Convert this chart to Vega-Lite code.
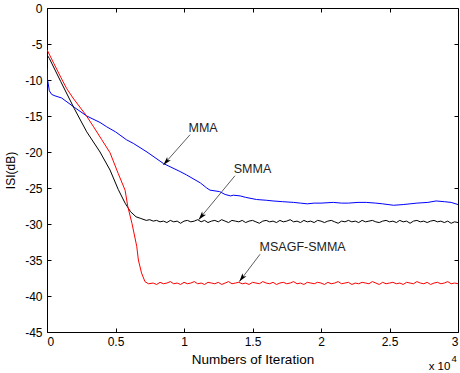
{
  "$schema": "https://vega.github.io/schema/vega-lite/v6.json",
  "width": 411,
  "height": 324,
  "autosize": {"type": "none"},
  "padding": {"left": 47, "top": 8, "right": 2, "bottom": 41},
  "background": "white",
  "config": {
    "view": {"stroke": "black", "strokeWidth": 1},
    "font": "Liberation Sans",
    "axis": {
      "domain": false,
      "grid": false,
      "tickColor": "black",
      "tickSize": -4,
      "labelFont": "Liberation Sans",
      "labelFontSize": 12,
      "labelColor": "black",
      "titleFont": "Liberation Sans",
      "titleFontSize": 12,
      "titleFontWeight": "normal",
      "titleColor": "black"
    }
  },
  "datasets": {
    "curves": [
      {"s": "MMA", "x": 0, "y": -8.3},
      {"s": "MMA", "x": 0.003, "y": -9.8},
      {"s": "MMA", "x": 0.017, "y": -11.5},
      {"s": "MMA", "x": 0.034, "y": -12.0},
      {"s": "MMA", "x": 0.058, "y": -12.2},
      {"s": "MMA", "x": 0.107, "y": -12.5},
      {"s": "MMA", "x": 0.2, "y": -13.8},
      {"s": "MMA", "x": 0.29, "y": -15.0},
      {"s": "MMA", "x": 0.387, "y": -15.9},
      {"s": "MMA", "x": 0.436, "y": -16.5},
      {"s": "MMA", "x": 0.5, "y": -17.2},
      {"s": "MMA", "x": 0.58, "y": -18.3},
      {"s": "MMA", "x": 0.63, "y": -18.8},
      {"s": "MMA", "x": 0.73, "y": -20.0},
      {"s": "MMA", "x": 0.85, "y": -21.6},
      {"s": "MMA", "x": 0.97, "y": -22.7},
      {"s": "MMA", "x": 1.02, "y": -23.2},
      {"s": "MMA", "x": 1.12, "y": -24.3},
      {"s": "MMA", "x": 1.166, "y": -25.0},
      {"s": "MMA", "x": 1.19, "y": -25.3},
      {"s": "MMA", "x": 1.26, "y": -25.5},
      {"s": "MMA", "x": 1.3, "y": -25.9},
      {"s": "MMA", "x": 1.34, "y": -26.1},
      {"s": "MMA", "x": 1.36, "y": -26.0},
      {"s": "MMA", "x": 1.41, "y": -26.1},
      {"s": "MMA", "x": 1.45, "y": -26.3},
      {"s": "MMA", "x": 1.53, "y": -26.6},
      {"s": "MMA", "x": 1.6, "y": -26.7},
      {"s": "MMA", "x": 1.65, "y": -26.8},
      {"s": "MMA", "x": 1.72, "y": -26.9},
      {"s": "MMA", "x": 1.8, "y": -27.0},
      {"s": "MMA", "x": 1.85, "y": -27.1},
      {"s": "MMA", "x": 1.9, "y": -27.2},
      {"s": "MMA", "x": 1.95, "y": -27.1},
      {"s": "MMA", "x": 2.0, "y": -27.1},
      {"s": "MMA", "x": 2.09, "y": -27.0},
      {"s": "MMA", "x": 2.15, "y": -27.1},
      {"s": "MMA", "x": 2.2, "y": -27.1},
      {"s": "MMA", "x": 2.27, "y": -27.0},
      {"s": "MMA", "x": 2.33, "y": -27.0},
      {"s": "MMA", "x": 2.4, "y": -27.1},
      {"s": "MMA", "x": 2.45, "y": -27.2},
      {"s": "MMA", "x": 2.53, "y": -27.4},
      {"s": "MMA", "x": 2.6, "y": -27.3},
      {"s": "MMA", "x": 2.65, "y": -27.2},
      {"s": "MMA", "x": 2.7, "y": -27.1},
      {"s": "MMA", "x": 2.78, "y": -27.0},
      {"s": "MMA", "x": 2.84, "y": -26.8},
      {"s": "MMA", "x": 2.9, "y": -26.9},
      {"s": "MMA", "x": 2.95, "y": -27.0},
      {"s": "MMA", "x": 3.0, "y": -27.3},

      {"s": "SMMA", "x": 0, "y": -6.5},
      {"s": "SMMA", "x": 0.017, "y": -7.0},
      {"s": "SMMA", "x": 0.1, "y": -10.2},
      {"s": "SMMA", "x": 0.2, "y": -14.0},
      {"s": "SMMA", "x": 0.29, "y": -17.2},
      {"s": "SMMA", "x": 0.387, "y": -20.0},
      {"s": "SMMA", "x": 0.46, "y": -22.5},
      {"s": "SMMA", "x": 0.52, "y": -25.2},
      {"s": "SMMA", "x": 0.57, "y": -27.1},
      {"s": "SMMA", "x": 0.61, "y": -28.3},
      {"s": "SMMA", "x": 0.65, "y": -29.0},
      {"s": "SMMA", "x": 0.68, "y": -29.2},
      {"s": "SMMA", "x": 0.725, "y": -29.5},
      {"s": "SMMA", "x": 0.75, "y": -29.4},
      {"s": "SMMA", "x": 0.775, "y": -29.6},
      {"s": "SMMA", "x": 0.8, "y": -29.5},
      {"s": "SMMA", "x": 0.825, "y": -29.7},
      {"s": "SMMA", "x": 0.85, "y": -29.6},
      {"s": "SMMA", "x": 0.875, "y": -29.8},
      {"s": "SMMA", "x": 0.9, "y": -29.5},
      {"s": "SMMA", "x": 0.925, "y": -29.7},
      {"s": "SMMA", "x": 0.95, "y": -29.6},
      {"s": "SMMA", "x": 0.975, "y": -29.9},
      {"s": "SMMA", "x": 1.0, "y": -29.6},
      {"s": "SMMA", "x": 1.025, "y": -29.5},
      {"s": "SMMA", "x": 1.05, "y": -29.7},
      {"s": "SMMA", "x": 1.075, "y": -29.6},
      {"s": "SMMA", "x": 1.1, "y": -29.4},
      {"s": "SMMA", "x": 1.125, "y": -29.7},
      {"s": "SMMA", "x": 1.15, "y": -29.5},
      {"s": "SMMA", "x": 1.175, "y": -29.8},
      {"s": "SMMA", "x": 1.2, "y": -29.6},
      {"s": "SMMA", "x": 1.225, "y": -29.5},
      {"s": "SMMA", "x": 1.25, "y": -29.7},
      {"s": "SMMA", "x": 1.275, "y": -29.4},
      {"s": "SMMA", "x": 1.3, "y": -29.6},
      {"s": "SMMA", "x": 1.325, "y": -29.8},
      {"s": "SMMA", "x": 1.35, "y": -29.5},
      {"s": "SMMA", "x": 1.375, "y": -29.6},
      {"s": "SMMA", "x": 1.4, "y": -29.7},
      {"s": "SMMA", "x": 1.425, "y": -29.5},
      {"s": "SMMA", "x": 1.45, "y": -29.8},
      {"s": "SMMA", "x": 1.475, "y": -29.6},
      {"s": "SMMA", "x": 1.5, "y": -29.5},
      {"s": "SMMA", "x": 1.525, "y": -29.7},
      {"s": "SMMA", "x": 1.55, "y": -29.9},
      {"s": "SMMA", "x": 1.575, "y": -29.6},
      {"s": "SMMA", "x": 1.6, "y": -29.5},
      {"s": "SMMA", "x": 1.625, "y": -29.7},
      {"s": "SMMA", "x": 1.65, "y": -29.6},
      {"s": "SMMA", "x": 1.675, "y": -29.8},
      {"s": "SMMA", "x": 1.7, "y": -29.5},
      {"s": "SMMA", "x": 1.725, "y": -29.7},
      {"s": "SMMA", "x": 1.75, "y": -29.6},
      {"s": "SMMA", "x": 1.775, "y": -29.4},
      {"s": "SMMA", "x": 1.8, "y": -29.7},
      {"s": "SMMA", "x": 1.825, "y": -29.6},
      {"s": "SMMA", "x": 1.85, "y": -29.8},
      {"s": "SMMA", "x": 1.875, "y": -29.5},
      {"s": "SMMA", "x": 1.9, "y": -29.7},
      {"s": "SMMA", "x": 1.925, "y": -29.6},
      {"s": "SMMA", "x": 1.95, "y": -29.8},
      {"s": "SMMA", "x": 1.975, "y": -29.5},
      {"s": "SMMA", "x": 2.0, "y": -29.6},
      {"s": "SMMA", "x": 2.025, "y": -29.8},
      {"s": "SMMA", "x": 2.05, "y": -29.6},
      {"s": "SMMA", "x": 2.075, "y": -29.5},
      {"s": "SMMA", "x": 2.1, "y": -29.7},
      {"s": "SMMA", "x": 2.125, "y": -29.9},
      {"s": "SMMA", "x": 2.15, "y": -29.6},
      {"s": "SMMA", "x": 2.175, "y": -29.7},
      {"s": "SMMA", "x": 2.2, "y": -29.5},
      {"s": "SMMA", "x": 2.225, "y": -29.7},
      {"s": "SMMA", "x": 2.25, "y": -29.6},
      {"s": "SMMA", "x": 2.275, "y": -29.8},
      {"s": "SMMA", "x": 2.3, "y": -29.5},
      {"s": "SMMA", "x": 2.325, "y": -29.7},
      {"s": "SMMA", "x": 2.35, "y": -29.6},
      {"s": "SMMA", "x": 2.375, "y": -29.5},
      {"s": "SMMA", "x": 2.4, "y": -29.7},
      {"s": "SMMA", "x": 2.425, "y": -29.8},
      {"s": "SMMA", "x": 2.45, "y": -29.6},
      {"s": "SMMA", "x": 2.475, "y": -29.5},
      {"s": "SMMA", "x": 2.5, "y": -29.7},
      {"s": "SMMA", "x": 2.525, "y": -29.6},
      {"s": "SMMA", "x": 2.55, "y": -29.8},
      {"s": "SMMA", "x": 2.575, "y": -29.5},
      {"s": "SMMA", "x": 2.6, "y": -29.7},
      {"s": "SMMA", "x": 2.625, "y": -29.6},
      {"s": "SMMA", "x": 2.65, "y": -29.9},
      {"s": "SMMA", "x": 2.675, "y": -29.6},
      {"s": "SMMA", "x": 2.7, "y": -29.5},
      {"s": "SMMA", "x": 2.725, "y": -29.7},
      {"s": "SMMA", "x": 2.75, "y": -29.6},
      {"s": "SMMA", "x": 2.775, "y": -29.8},
      {"s": "SMMA", "x": 2.8, "y": -29.6},
      {"s": "SMMA", "x": 2.825, "y": -29.5},
      {"s": "SMMA", "x": 2.85, "y": -29.7},
      {"s": "SMMA", "x": 2.875, "y": -29.6},
      {"s": "SMMA", "x": 2.9, "y": -29.8},
      {"s": "SMMA", "x": 2.925, "y": -29.6},
      {"s": "SMMA", "x": 2.95, "y": -29.9},
      {"s": "SMMA", "x": 2.975, "y": -29.7},
      {"s": "SMMA", "x": 3.0, "y": -29.8},

      {"s": "MSAGF-SMMA", "x": 0, "y": -5.8},
      {"s": "MSAGF-SMMA", "x": 0.05, "y": -7.7},
      {"s": "MSAGF-SMMA", "x": 0.1, "y": -9.6},
      {"s": "MSAGF-SMMA", "x": 0.144, "y": -11.2},
      {"s": "MSAGF-SMMA", "x": 0.19, "y": -12.5},
      {"s": "MSAGF-SMMA", "x": 0.285, "y": -14.9},
      {"s": "MSAGF-SMMA", "x": 0.34, "y": -16.5},
      {"s": "MSAGF-SMMA", "x": 0.4, "y": -18.3},
      {"s": "MSAGF-SMMA", "x": 0.46, "y": -20.1},
      {"s": "MSAGF-SMMA", "x": 0.52, "y": -23.0},
      {"s": "MSAGF-SMMA", "x": 0.57, "y": -25.3},
      {"s": "MSAGF-SMMA", "x": 0.59, "y": -27.6},
      {"s": "MSAGF-SMMA", "x": 0.62, "y": -29.9},
      {"s": "MSAGF-SMMA", "x": 0.655, "y": -33.1},
      {"s": "MSAGF-SMMA", "x": 0.667, "y": -35.0},
      {"s": "MSAGF-SMMA", "x": 0.69, "y": -36.8},
      {"s": "MSAGF-SMMA", "x": 0.715, "y": -38.0},
      {"s": "MSAGF-SMMA", "x": 0.74, "y": -38.3},
      {"s": "MSAGF-SMMA", "x": 0.775, "y": -38.2},
      {"s": "MSAGF-SMMA", "x": 0.8, "y": -38.4},
      {"s": "MSAGF-SMMA", "x": 0.825, "y": -38.1},
      {"s": "MSAGF-SMMA", "x": 0.85, "y": -38.3},
      {"s": "MSAGF-SMMA", "x": 0.875, "y": -38.2},
      {"s": "MSAGF-SMMA", "x": 0.9, "y": -38.0},
      {"s": "MSAGF-SMMA", "x": 0.925, "y": -38.3},
      {"s": "MSAGF-SMMA", "x": 0.95, "y": -38.2},
      {"s": "MSAGF-SMMA", "x": 0.975, "y": -38.4},
      {"s": "MSAGF-SMMA", "x": 1.0, "y": -38.1},
      {"s": "MSAGF-SMMA", "x": 1.025, "y": -38.3},
      {"s": "MSAGF-SMMA", "x": 1.05, "y": -38.2},
      {"s": "MSAGF-SMMA", "x": 1.075, "y": -38.0},
      {"s": "MSAGF-SMMA", "x": 1.1, "y": -38.3},
      {"s": "MSAGF-SMMA", "x": 1.125, "y": -38.2},
      {"s": "MSAGF-SMMA", "x": 1.15, "y": -38.4},
      {"s": "MSAGF-SMMA", "x": 1.175, "y": -38.1},
      {"s": "MSAGF-SMMA", "x": 1.2, "y": -38.2},
      {"s": "MSAGF-SMMA", "x": 1.225, "y": -38.3},
      {"s": "MSAGF-SMMA", "x": 1.25, "y": -38.1},
      {"s": "MSAGF-SMMA", "x": 1.275, "y": -38.4},
      {"s": "MSAGF-SMMA", "x": 1.3, "y": -38.2},
      {"s": "MSAGF-SMMA", "x": 1.325, "y": -38.0},
      {"s": "MSAGF-SMMA", "x": 1.35, "y": -38.3},
      {"s": "MSAGF-SMMA", "x": 1.375, "y": -38.2},
      {"s": "MSAGF-SMMA", "x": 1.4, "y": -38.1},
      {"s": "MSAGF-SMMA", "x": 1.425, "y": -38.3},
      {"s": "MSAGF-SMMA", "x": 1.45, "y": -38.2},
      {"s": "MSAGF-SMMA", "x": 1.475, "y": -38.4},
      {"s": "MSAGF-SMMA", "x": 1.5, "y": -38.1},
      {"s": "MSAGF-SMMA", "x": 1.525, "y": -38.2},
      {"s": "MSAGF-SMMA", "x": 1.55, "y": -38.3},
      {"s": "MSAGF-SMMA", "x": 1.575, "y": -38.0},
      {"s": "MSAGF-SMMA", "x": 1.6, "y": -38.2},
      {"s": "MSAGF-SMMA", "x": 1.625, "y": -38.3},
      {"s": "MSAGF-SMMA", "x": 1.65, "y": -38.1},
      {"s": "MSAGF-SMMA", "x": 1.675, "y": -38.4},
      {"s": "MSAGF-SMMA", "x": 1.7, "y": -38.2},
      {"s": "MSAGF-SMMA", "x": 1.725, "y": -38.1},
      {"s": "MSAGF-SMMA", "x": 1.75, "y": -38.3},
      {"s": "MSAGF-SMMA", "x": 1.775, "y": -38.2},
      {"s": "MSAGF-SMMA", "x": 1.8, "y": -38.0},
      {"s": "MSAGF-SMMA", "x": 1.825, "y": -38.3},
      {"s": "MSAGF-SMMA", "x": 1.85, "y": -38.2},
      {"s": "MSAGF-SMMA", "x": 1.875, "y": -38.4},
      {"s": "MSAGF-SMMA", "x": 1.9, "y": -38.1},
      {"s": "MSAGF-SMMA", "x": 1.925, "y": -38.2},
      {"s": "MSAGF-SMMA", "x": 1.95, "y": -38.3},
      {"s": "MSAGF-SMMA", "x": 1.975, "y": -38.1},
      {"s": "MSAGF-SMMA", "x": 2.0, "y": -38.2},
      {"s": "MSAGF-SMMA", "x": 2.025, "y": -38.4},
      {"s": "MSAGF-SMMA", "x": 2.05, "y": -38.1},
      {"s": "MSAGF-SMMA", "x": 2.075, "y": -38.3},
      {"s": "MSAGF-SMMA", "x": 2.1, "y": -38.2},
      {"s": "MSAGF-SMMA", "x": 2.125, "y": -38.0},
      {"s": "MSAGF-SMMA", "x": 2.15, "y": -38.3},
      {"s": "MSAGF-SMMA", "x": 2.175, "y": -38.2},
      {"s": "MSAGF-SMMA", "x": 2.2, "y": -38.1},
      {"s": "MSAGF-SMMA", "x": 2.225, "y": -38.4},
      {"s": "MSAGF-SMMA", "x": 2.25, "y": -38.2},
      {"s": "MSAGF-SMMA", "x": 2.275, "y": -38.3},
      {"s": "MSAGF-SMMA", "x": 2.3, "y": -38.1},
      {"s": "MSAGF-SMMA", "x": 2.325, "y": -38.2},
      {"s": "MSAGF-SMMA", "x": 2.35, "y": -38.3},
      {"s": "MSAGF-SMMA", "x": 2.375, "y": -38.0},
      {"s": "MSAGF-SMMA", "x": 2.4, "y": -38.2},
      {"s": "MSAGF-SMMA", "x": 2.425, "y": -38.4},
      {"s": "MSAGF-SMMA", "x": 2.45, "y": -38.1},
      {"s": "MSAGF-SMMA", "x": 2.475, "y": -38.3},
      {"s": "MSAGF-SMMA", "x": 2.5, "y": -38.2},
      {"s": "MSAGF-SMMA", "x": 2.525, "y": -38.1},
      {"s": "MSAGF-SMMA", "x": 2.55, "y": -38.3},
      {"s": "MSAGF-SMMA", "x": 2.575, "y": -38.2},
      {"s": "MSAGF-SMMA", "x": 2.6, "y": -38.4},
      {"s": "MSAGF-SMMA", "x": 2.625, "y": -38.1},
      {"s": "MSAGF-SMMA", "x": 2.65, "y": -38.2},
      {"s": "MSAGF-SMMA", "x": 2.675, "y": -38.3},
      {"s": "MSAGF-SMMA", "x": 2.7, "y": -38.0},
      {"s": "MSAGF-SMMA", "x": 2.725, "y": -38.2},
      {"s": "MSAGF-SMMA", "x": 2.75, "y": -38.3},
      {"s": "MSAGF-SMMA", "x": 2.775, "y": -38.1},
      {"s": "MSAGF-SMMA", "x": 2.8, "y": -38.4},
      {"s": "MSAGF-SMMA", "x": 2.825, "y": -38.2},
      {"s": "MSAGF-SMMA", "x": 2.85, "y": -38.1},
      {"s": "MSAGF-SMMA", "x": 2.875, "y": -38.3},
      {"s": "MSAGF-SMMA", "x": 2.9, "y": -38.2},
      {"s": "MSAGF-SMMA", "x": 2.925, "y": -38.0},
      {"s": "MSAGF-SMMA", "x": 2.95, "y": -38.3},
      {"s": "MSAGF-SMMA", "x": 2.975, "y": -38.2},
      {"s": "MSAGF-SMMA", "x": 3.0, "y": -38.3}
    ],
    "notes": [
      {"label": "MMA", "tx": 1.139, "ty": -16.7, "ax": 1.044, "ay": -17.6, "hx": 0.849, "hy": -21.8, "ang": 222},
      {"label": "SMMA", "tx": 1.5, "ty": -22.4, "ax": 1.372, "ay": -23.3, "hx": 1.107, "hy": -29.4, "ang": 219.5},
      {"label": "MSAGF-SMMA", "tx": 1.866, "ty": -33.2, "ax": 1.555, "ay": -34.2, "hx": 1.404, "hy": -38.0, "ang": 217}
    ],
    "scale": [
      {"t": "x 10", "x": 2.865, "y": -49.8, "size": 11.5},
      {"t": "4", "x": 2.972, "y": -48.7, "size": 9.5}
    ]
  },
  "layer": [
    {
      "data": {"name": "curves"},
      "mark": {"type": "line", "strokeWidth": 1, "clip": true},
      "encoding": {
        "x": {
          "field": "x", "type": "quantitative",
          "scale": {"domain": [0, 3], "nice": false, "zero": false},
          "axis": {
            "orient": "bottom",
            "values": [0, 0.5, 1, 1.5, 2, 2.5, 3],
            "labelExpr": "toString(datum.value)",
            "labelPadding": 8,
            "title": "Numbers of Iteration",
            "titleFontSize": 13.5,
            "titlePadding": 5
          }
        },
        "y": {
          "field": "y", "type": "quantitative",
          "scale": {"domain": [-45, 0], "nice": false, "zero": false},
          "axis": {
            "orient": "left",
            "values": [-45, -40, -35, -30, -25, -20, -15, -10, -5, 0],
            "labelExpr": "toString(datum.value)",
            "labelPadding": 9,
            "title": "ISI(dB)",
            "titlePadding": 7
          }
        },
        "color": {
          "field": "s", "type": "nominal",
          "scale": {"domain": ["MMA", "SMMA", "MSAGF-SMMA"], "range": ["#0000ff", "#000000", "#ff0000"]},
          "legend": null
        }
      }
    },
    {
      "data": {"name": "notes"},
      "layer": [
        {
          "mark": {"type": "rule", "color": "#333333", "strokeWidth": 0.8},
          "encoding": {
            "x": {"field": "ax", "type": "quantitative", "scale": {"domain": [0, 3], "nice": false, "zero": false},
                  "axis": {"orient": "top", "values": [0, 0.5, 1, 1.5, 2, 2.5, 3], "labels": false, "title": null}},
            "y": {"field": "ay", "type": "quantitative", "scale": {"domain": [-45, 0], "nice": false, "zero": false},
                  "axis": {"orient": "right", "values": [-45, -40, -35, -30, -25, -20, -15, -10, -5, 0], "labels": false, "title": null}},
            "x2": {"field": "hx"},
            "y2": {"field": "hy"}
          }
        },
        {
          "mark": {"type": "point", "shape": "M0,0L0.5,1.7L0,1.3L-0.5,1.7Z", "filled": true, "color": "black", "opacity": 1, "size": 100},
          "encoding": {
            "x": {"field": "hx", "type": "quantitative"},
            "y": {"field": "hy", "type": "quantitative"},
            "angle": {"field": "ang", "type": "quantitative", "scale": null}
          }
        },
        {
          "mark": {"type": "text", "fontSize": 12.5, "font": "Liberation Sans", "color": "#222222", "align": "center", "baseline": "middle"},
          "encoding": {
            "x": {"field": "tx", "type": "quantitative"},
            "y": {"field": "ty", "type": "quantitative"},
            "text": {"field": "label"}
          }
        }
      ]
    },
    {
      "data": {"name": "scale"},
      "mark": {"type": "text", "font": "Liberation Sans", "color": "black", "align": "center", "baseline": "middle"},
      "encoding": {
        "x": {"field": "x", "type": "quantitative", "axis": null},
        "y": {"field": "y", "type": "quantitative", "axis": null},
        "text": {"field": "t"},
        "size": {"field": "size", "type": "quantitative", "scale": null}
      }
    }
  ],
  "resolve": {"axis": {"x": "independent", "y": "independent"}}
}
